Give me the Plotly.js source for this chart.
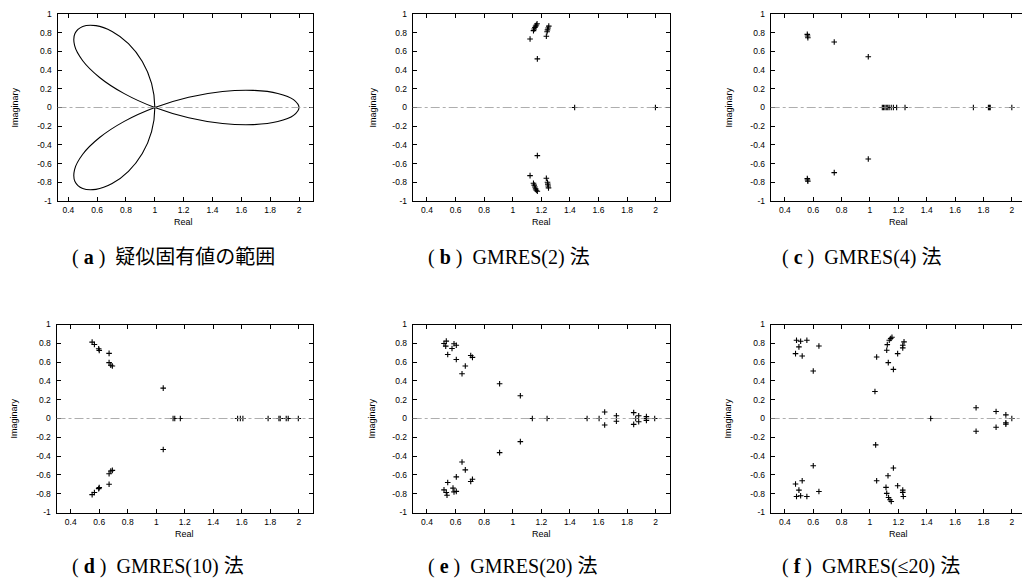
<!DOCTYPE html>
<html>
<head>
<meta charset="utf-8">
<script src="https://cdn.plot.ly/plotly-3.0.1.min.js"></script>
<style>
html,body{margin:0;padding:0;background:#fff;overflow:hidden;}
#chart{width:1030px;height:583px;}
</style>
</head>
<body>
<div id="chart"></div>
<script>
// ---------- data ----------
const xTickVals = [0.4,0.6,0.8,1,1.2,1.4,1.6,1.8,2];
const xTickText = ["0.4","0.6","0.8","1","1.2","1.4","1.6","1.8","2"];
const yTickVals = [-1,-0.8,-0.6,-0.4,-0.2,0,0.2,0.4,0.6,0.8,1];
const yTickText = ["-1","-0.8","-0.6","-0.4","-0.2","0","0.2","0.4","0.6","0.8","1"];

const captions = ["(\u00a0<b>a</b>\u00a0)\u00a0\u00a0疑似固有値の範囲",
                  "(\u00a0<b>b</b>\u00a0)\u00a0\u00a0GMRES(2)\u00a0法",
                  "(\u00a0<b>c</b>\u00a0)\u00a0\u00a0GMRES(4)\u00a0法",
                  "(\u00a0<b>d</b>\u00a0)\u00a0\u00a0GMRES(10)\u00a0法",
                  "(\u00a0<b>e</b>\u00a0)\u00a0\u00a0GMRES(20)\u00a0法",
                  "(\u00a0<b>f</b>\u00a0)\u00a0\u00a0GMRES(≤20)\u00a0法"];

// (a) pseudo-eigenvalue region boundary
const curveReal = [2,1.962,1.853,1.683,1.470,1.2346,1,0.788,0.617,0.5,0.4433,0.446,0.5,0.5918,0.7038,0.817,0.9132,0.9774,1,
                   0.9774,0.9132,0.817,0.7038,0.5918,0.5,0.446,0.4433,0.5,0.617,0.788,1,1.2346,1.470,1.683,1.853,1.962,2];
const curveImag = [0,0.0842,0.1504,0.1830,0.1710,0.1094,0,-0.1484,-0.3214,-0.5,-0.6634,-0.7913,-0.866,-0.8754,-0.8138,-0.683,-0.4924,-0.2578,0,
                   0.2578,0.4924,0.683,0.8138,0.8754,0.866,0.7913,0.6634,0.5,0.3214,0.1484,0,-0.1094,-0.1710,-0.1830,-0.1504,-0.0842,0];

// (b) GMRES(2)
const gm2Real = [1.145,1.150,1.155,1.160,1.165,1.170,1.121,1.172,1.240,1.243,1.247,1.252,1.235,1.433,1.998,
                 1.121,1.172,1.145,1.150,1.155,1.160,1.165,1.172,1.235,1.243,1.245,1.248,1.250];
const gm2Imag = [0.822,0.840,0.855,0.870,0.882,0.895,0.733,0.520,0.810,0.830,0.850,0.870,0.762,0,0,
                 -0.729,-0.515,-0.810,-0.830,-0.850,-0.870,-0.885,-0.895,-0.757,-0.800,-0.820,-0.840,-0.860];

// (c) GMRES(4)
const gm4Real = [0.558,0.560,0.562,0.748,0.988,
                 1.087,1.095,1.105,1.115,1.125,1.135,1.150,1.165,1.188,1.247,1.729,1.835,1.842,1.848,2.0,
                 0.558,0.560,0.562,0.748,0.988];
const gm4Imag = [0.782,0.765,0.746,0.700,0.543,
                 0,0,0,0,0,0,0,0,0,0,0,0,0,0,0,
                 -0.761,-0.775,-0.789,-0.696,-0.550];

// (d) GMRES(10)
const gm10Real = [0.550,0.566,0.596,0.600,0.669,0.669,0.681,0.692,1.049,
                  1.118,1.130,1.169,1.571,1.590,1.608,1.785,1.861,1.870,1.912,1.926,1.997,
                  0.550,0.566,0.596,0.600,0.669,0.669,0.681,0.692,1.049];
const gm10Imag = [0.813,0.788,0.742,0.725,0.693,0.594,0.566,0.559,0.323,
                  0,0,0,0,0,0,0,0,0,0,0,0,
                  -0.810,-0.788,-0.746,-0.735,-0.700,-0.587,-0.559,-0.552,-0.330];

// (e) GMRES(20)
const gm20Real = [0.535,0.519,0.531,0.575,0.589,0.605,0.545,0.605,0.668,0.645,0.706,0.718,0.908,1.053,
                  1.137,1.240,1.520,1.604,1.643,1.643,1.725,1.725,1.846,1.846,1.860,1.881,1.881,1.935,1.935,1.935,1.993,
                  0.519,0.535,0.540,0.582,0.589,0.605,0.545,0.605,0.668,0.645,0.706,0.718,0.908,1.053];
const gm20Imag = [0.823,0.798,0.770,0.745,0.795,0.780,0.681,0.628,0.558,0.476,0.671,0.650,0.370,0.242,
                  0,0,0,0,0.069,-0.069,0.030,-0.030,0.062,-0.062,0,0.030,-0.034,0.020,0,-0.020,0,
                  -0.759,-0.788,-0.816,-0.741,-0.781,-0.775,-0.681,-0.621,-0.547,-0.462,-0.671,-0.646,-0.363,-0.246];

// (f) GMRES(<=20)
const gmVarReal = [0.482,0.511,0.499,0.475,0.522,0.555,0.640,0.600,1.035,1.047,1.118,1.122,1.136,1.146,1.155,1.129,1.165,1.195,1.231,1.231,1.240,
                   1.428,1.748,1.748,1.889,1.889,1.958,1.958,1.958,2.0,
                   0.475,0.499,0.482,0.511,0.522,0.555,0.600,0.640,1.040,1.047,1.113,1.118,1.131,1.141,1.150,1.127,1.165,1.195,1.231,1.231,1.235];
const gmVarImag = [0.833,0.822,0.762,0.690,0.665,0.833,0.772,0.505,0.288,0.655,0.726,0.786,0.833,0.851,0.865,0.594,0.523,0.690,0.751,0.779,0.815,
                   0,0.114,-0.135,0.075,-0.093,0.039,-0.046,-0.060,0,
                   -0.697,-0.762,-0.829,-0.822,-0.662,-0.829,-0.502,-0.776,-0.281,-0.662,-0.733,-0.797,-0.840,-0.865,-0.883,-0.609,-0.527,-0.715,-0.762,-0.786,-0.829];

// ---------- layout helpers ----------
const W = 1030, H = 583;
const panels = [
  {x:[57.5,313], y:[14,201],   range:[0.325,2.097], imX:14,  capX:70},
  {x:[412.7,670], y:[14,201],  range:[0.3,2.1],     imX:372, capX:426},
  {x:[770.7,1026], y:[14,201], range:[0.3,2.1],     imX:728, capX:780},
  {x:[56.5,313], y:[324.5,512.5], range:[0.3,2.1],  imX:13,  capX:70},
  {x:[412.7,670], y:[324.5,512.5], range:[0.3,2.1], imX:371, capX:426},
  {x:[770.7,1026], y:[324.5,512.5], range:[0.3,2.1],imX:727, capX:780}
];
const rowCap = [257, 566];
const rowReal = [222, 534];

const tickFont = {family:'Liberation Sans, Arial, sans-serif', size:8.5, color:'#000'};
const layout = {
  width:W, height:H, margin:{l:0,r:0,t:0,b:0},
  paper_bgcolor:'#fff', plot_bgcolor:'#fff', showlegend:false,
  shapes:[], annotations:[]
};

const seriesX = [curveReal, gm2Real, gm4Real, gm10Real, gm20Real, gmVarReal];
const seriesY = [curveImag, gm2Imag, gm4Imag, gm10Imag, gm20Imag, gmVarImag];
const traces = [];

panels.forEach((p,i)=>{
  const n = i===0 ? '' : String(i+1);
  const xa = 'x'+n, ya = 'y'+n;
  layout['xaxis'+n] = {
    domain:[p.x[0]/W, p.x[1]/W], range:p.range, anchor:ya,
    tickvals:xTickVals, ticktext:xTickText, ticks:'inside', ticklen:4, tickwidth:1, tickcolor:'#000',
    mirror:'allticks', showline:true, linecolor:'#000', linewidth:1,
    showgrid:false, zeroline:false, tickfont:tickFont, ticklabelstandoff:1, fixedrange:true
  };
  layout['yaxis'+n] = {
    domain:[1-p.y[1]/H, 1-p.y[0]/H], range:[-1,1], anchor:xa,
    tickvals:yTickVals, ticktext:yTickText, ticks:'inside', ticklen:4, tickwidth:1, tickcolor:'#000',
    mirror:'allticks', showline:true, linecolor:'#000', linewidth:1,
    showgrid:false, zeroline:false, tickfont:tickFont, ticklabelstandoff:3, fixedrange:true
  };
  layout.shapes.push({type:'line', xref:xa+' domain', yref:ya, x0:0, x1:1, y0:0, y1:0,
                      line:{color:'#999', width:0.8, dash:'dashdot'}});
  const row = i<3 ? 0 : 1;
  const midPx = (p.y[0]+p.y[1])/2;
  layout.annotations.push({xref:'paper', yref:'paper', x:p.imX/W, y:1-midPx/H, text:'Imaginary',
    textangle:-90, showarrow:false, xanchor:'center', yanchor:'middle',
    font:{family:'Liberation Sans, Arial, sans-serif', size:9, color:'#000'}});
  layout.annotations.push({xref:xa, yref:'paper', x:1.2, y:1-rowReal[row]/H, text:'Real',
    showarrow:false, xanchor:'center', yanchor:'middle',
    font:{family:'Liberation Sans, Arial, sans-serif', size:9, color:'#000'}});
  layout.annotations.push({xref:'paper', yref:'paper', x:p.capX/W, y:1-rowCap[row]/H, text:captions[i],
    showarrow:false, xanchor:'left', yanchor:'middle',
    font:{family:'Liberation Serif, Noto Sans CJK JP, serif', size:20, color:'#000'}});

  if (i===0) {
    traces.push({type:'scatter', mode:'lines', x:seriesX[i], y:seriesY[i], xaxis:xa, yaxis:ya,
      line:{color:'#000', width:1.1, shape:'spline', smoothing:1}, hoverinfo:'skip'});
  } else {
    traces.push({type:'scatter', mode:'markers', x:seriesX[i], y:seriesY[i], xaxis:xa, yaxis:ya,
      marker:{symbol:'cross-thin', size:4, color:'#000', line:{color:'#000', width:1.1}}, hoverinfo:'skip'});
  }
});

Plotly.newPlot('chart', traces, layout, {staticPlot:true, displayModeBar:false});
</script>
</body>
</html>
